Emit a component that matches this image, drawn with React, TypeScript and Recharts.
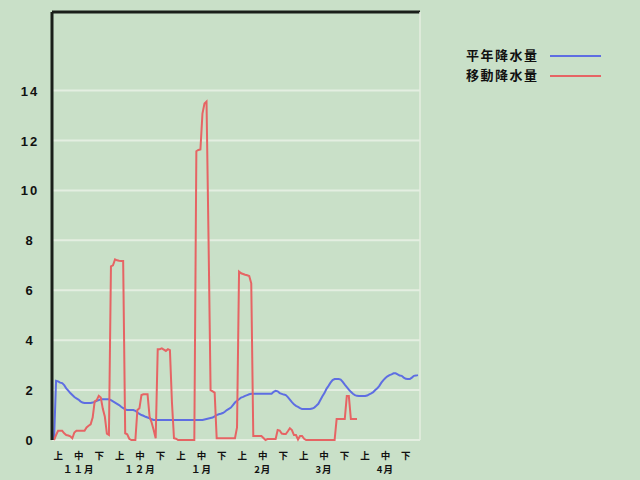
import React from 'react';
import { LineChart, Line, XAxis, YAxis, CartesianGrid, ReferenceLine } from 'recharts';

// daily values from Nov 1 (day 1)
const normal = [
  0, 2.37, 2.35, 2.3, 2.28, 2.2, 2.07, 1.98, 1.88, 1.8,
  1.72, 1.67, 1.62, 1.55, 1.5, 1.48, 1.48, 1.48, 1.48, 1.5,
  1.53, 1.57, 1.6, 1.63, 1.63, 1.63, 1.63, 1.63, 1.6, 1.55,
  1.5, 1.45, 1.4, 1.33, 1.28, 1.22, 1.2, 1.2, 1.2, 1.2,
  1.17, 1.1, 1.05, 1.0, 0.97, 0.93, 0.9, 0.87, 0.83, 0.8,
  0.8, 0.8, 0.8, 0.8, 0.8, 0.8, 0.8, 0.8, 0.8, 0.8,
  0.8, 0.8, 0.8, 0.8, 0.8, 0.8, 0.8, 0.8, 0.8, 0.8,
  0.8, 0.8, 0.8, 0.8, 0.82, 0.84, 0.86, 0.88, 0.9, 0.95,
  1.0, 1.03, 1.05, 1.08, 1.13, 1.2, 1.25, 1.3, 1.4, 1.5,
  1.57, 1.63, 1.7, 1.73, 1.77, 1.8, 1.83, 1.85, 1.85, 1.85,
  1.85, 1.85, 1.85, 1.85, 1.85, 1.85, 1.85, 1.85, 1.93, 1.97,
  1.95, 1.88, 1.85, 1.82, 1.8, 1.72, 1.62, 1.52, 1.43, 1.37,
  1.33, 1.28, 1.24, 1.24, 1.24, 1.24, 1.24, 1.26, 1.3, 1.37,
  1.45, 1.6, 1.75, 1.88, 2.05, 2.17, 2.3, 2.4, 2.44, 2.44,
  2.44, 2.42, 2.33, 2.22, 2.12, 2.02, 1.93, 1.85, 1.8, 1.77,
  1.76, 1.76, 1.76, 1.76, 1.78, 1.83, 1.87, 1.92, 2.0, 2.07,
  2.17, 2.3, 2.4, 2.48, 2.55, 2.6, 2.63, 2.67, 2.67, 2.63,
  2.58, 2.57, 2.5, 2.45, 2.44, 2.44, 2.5, 2.57, 2.58, 2.6,
];

const moving = [
  0, 0.2, 0.37, 0.37, 0.37, 0.27, 0.2, 0.18, 0.15, 0.07,
  0.3, 0.37, 0.37, 0.37, 0.37, 0.37, 0.5, 0.57, 0.63, 0.9,
  1.55, 1.6, 1.77, 1.7, 1.25, 0.93, 0.25, 0.2, 6.96, 7.0,
  7.24, 7.2, 7.18, 7.17, 7.17, 0.27, 0.23, 0.05, 0, 0,
  0, 1.2, 1.27, 1.8, 1.83, 1.83, 1.83, 0.93, 0.7, 0.4,
  0.07, 3.64, 3.64, 3.67, 3.62, 3.57, 3.64, 3.6, 1.5, 0.07,
  0.05, 0, 0, 0, 0, 0, 0, 0, 0, 0,
  11.57, 11.62, 11.64, 13.08, 13.48, 13.56, 8.0, 2.0, 1.95, 1.9,
  0.07, 0.07, 0.07, 0.07, 0.07, 0.07, 0.07, 0.07, 0.07, 0.07,
  0.5, 6.75, 6.68, 6.65, 6.62, 6.6, 6.57, 6.28, 0.16, 0.16,
  0.16, 0.16, 0.16, 0.08, 0, 0.04, 0.04, 0.04, 0.04, 0.04,
  0.4, 0.38, 0.26, 0.24, 0.24, 0.35, 0.47, 0.4, 0.2, 0.2,
  0.02, 0.16, 0.16, 0.05, 0, 0, 0, 0, 0, 0,
  0, 0, 0, 0, 0, 0, 0, 0, 0, 0.84,
  0.84, 0.84, 0.84, 0.84, 1.76, 1.76, 0.84, 0.84, 0.84, 0.84,
];

const dekads = ['上', '中', '下'];
const months = ['１１月', '１２月', '１月', '2月', '3月', '4月'];
const yTicks = [0, 2, 4, 6, 8, 10, 12, 14];

const TOTAL_DAYS = 181;
const Y_MAX = 17.15;
// one label per dekad, a few days in
const xTicks = Array.from({ length: months.length * 3 }, (_, k) => 3.1 + (k * TOTAL_DAYS) / 18);

const data = normal.map((v, i) => ({
  d: i + 1,
  normal: v,
  moving: i < moving.length ? moving[i] : null,
}));

const BG = '#c9e0c8';
const GRID = '#e4eee1';
const BLUE = '#5e6ee2';
const RED = '#e66464';
const FONT = '"Noto Sans CJK JP", "Liberation Sans", sans-serif';

const XTick = (props: any) => {
  const { x, y, index } = props;
  const k = index ?? 0;
  return (
    <g>
      <text x={x} y={y + 10.5} textAnchor="middle" fontSize={9.5} fontWeight="bold" fill="#111" fontFamily={FONT}>
        {dekads[k % 3]}
      </text>
      {k % 3 === 1 && (
        <text x={x} y={y + 24.5} textAnchor="middle" fontSize={9.5} fontWeight="bold" fill="#111" fontFamily={FONT} letterSpacing={1}>
          {months[Math.floor(k / 3)]}
        </text>
      )}
    </g>
  );
};

const YTick = (props: any) => {
  const { y, payload } = props;
  return (
    <text x={30} y={y + 5} textAnchor="middle" fontSize={13} fontWeight="bold" fill="#111" fontFamily='"Liberation Sans", sans-serif' letterSpacing={2}>
      {payload.value}
    </text>
  );
};

const legendItems = [
  { name: '平年降水量', color: BLUE },
  { name: '移動降水量', color: RED },
];

export default function App() {
  return (
    <div style={{ position: 'absolute', left: 0, top: 0, width: 640, height: 480, background: BG, overflow: 'hidden' }}>
      <LineChart width={640} height={480} data={data} margin={{ top: 12, right: 220, bottom: 0, left: 0 }}>
        <CartesianGrid horizontal vertical={false} stroke={GRID} strokeWidth={2} />
        <XAxis
          dataKey="d"
          type="number"
          domain={[0, TOTAL_DAYS]}
          ticks={xTicks}
          interval={0}
          axisLine={false}
          tickLine={false}
          height={40}
          tick={<XTick />}
        />
        <YAxis
          type="number"
          domain={[0, Y_MAX]}
          ticks={yTicks}
          interval={0}
          width={52}
          axisLine={{ stroke: '#1a1f1a', strokeWidth: 3 }}
          tickLine={false}
          tick={<YTick />}
        />
        <ReferenceLine y={Y_MAX} stroke="#1a1f1a" strokeWidth={3} />
        <ReferenceLine x={TOTAL_DAYS} stroke={GRID} strokeWidth={1.5} />
        <Line type="linear" dataKey="normal" stroke={BLUE} strokeWidth={2} dot={false} isAnimationActive={false} />
        <Line type="linear" dataKey="moving" stroke={RED} strokeWidth={2} dot={false} isAnimationActive={false} />
      </LineChart>
      {legendItems.map((item, i) => (
        <React.Fragment key={item.name}>
          <div
            style={{
              position: 'absolute',
              left: 466,
              top: 46 + i * 20,
              fontFamily: FONT,
              fontSize: 13,
              fontWeight: 'bold',
              letterSpacing: 1.5,
              lineHeight: '18px',
              color: '#111',
              whiteSpace: 'nowrap',
            }}
          >
            {item.name}
          </div>
          <div
            style={{
              position: 'absolute',
              left: 550,
              top: 55 + i * 20,
              width: 51,
              height: 2,
              background: item.color,
            }}
          />
        </React.Fragment>
      ))}
    </div>
  );
}
